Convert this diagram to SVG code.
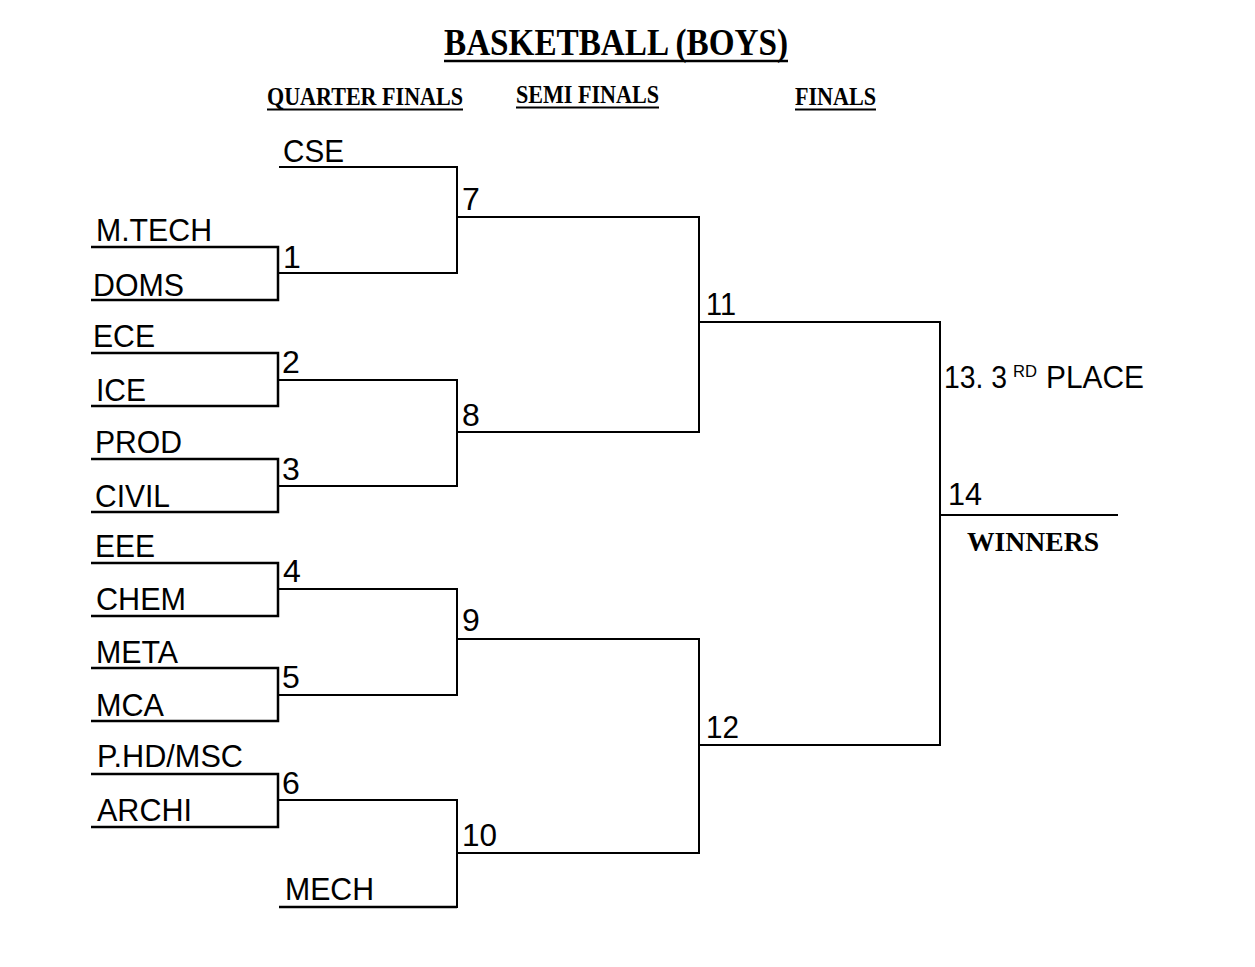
<svg xmlns="http://www.w3.org/2000/svg" width="1255" height="967" viewBox="0 0 1255 967">
<style>
.ln{stroke:#000;stroke-width:2;fill:none}
.tm{stroke:#000;stroke-width:2.5;fill:none}
.t{font-family:"Liberation Sans",Arial,sans-serif;font-size:32px;fill:#000}
.n{font-family:"Liberation Sans",Arial,sans-serif;font-size:32px;fill:#000}
.sup{font-family:"Liberation Sans",Arial,sans-serif;font-size:17px;fill:#000}
.h{font-family:"Liberation Serif","Times New Roman",serif;font-weight:bold;fill:#000}
</style>
<rect width="1255" height="967" fill="#fff"/>
<g id="title">
<text class="h" x="444" y="55" font-size="37" textLength="344" lengthAdjust="spacingAndGlyphs">BASKETBALL (BOYS)</text>
<line class="tm" x1="444" y1="61" x2="788" y2="61"/>
</g>
<g id="headers">
<text class="h" x="267" y="105" font-size="25" textLength="196" lengthAdjust="spacingAndGlyphs">QUARTER FINALS</text>
<line x1="267" y1="109.5" x2="463" y2="109.5" stroke="#000" stroke-width="2"/>
<text class="h" x="516" y="103" font-size="25" textLength="143" lengthAdjust="spacingAndGlyphs">SEMI FINALS</text>
<line x1="516" y1="107.5" x2="659" y2="107.5" stroke="#000" stroke-width="2"/>
<text class="h" x="795" y="105" font-size="25" textLength="81" lengthAdjust="spacingAndGlyphs">FINALS</text>
<line x1="795" y1="109.5" x2="876" y2="109.5" stroke="#000" stroke-width="2"/>
</g>
<g id="connectors">
<path class="tm" d="M91 247H278V300H91"/>
<path class="tm" d="M91 353H278V406H91"/>
<path class="tm" d="M91 459H278V512H91"/>
<path class="tm" d="M91 563H278V616H91"/>
<path class="tm" d="M91 668H278V721H91"/>
<path class="tm" d="M91 774H278V827H91"/>
<path class="ln" d="M279 167H457V273H278"/>
<path class="ln" d="M278 380H457V486H278"/>
<path class="ln" d="M278 589H457V695H278"/>
<path class="ln" d="M278 800H457V907H279"/>
<path class="tm" d="M279 907H457"/>
<path class="ln" d="M457 217H699V432H457"/>
<path class="ln" d="M457 639H699V853H457"/>
<path class="ln" d="M699 322H940V745H699"/>
<path class="ln" d="M940 515H1118"/>
</g>
<g id="teams">
<text class="t" x="283" y="162" textLength="61" lengthAdjust="spacingAndGlyphs">CSE</text>
<text class="t" x="96" y="241" textLength="116" lengthAdjust="spacingAndGlyphs">M.TECH</text>
<text class="t" x="93" y="296" textLength="91" lengthAdjust="spacingAndGlyphs">DOMS</text>
<text class="t" x="93" y="347" textLength="62" lengthAdjust="spacingAndGlyphs">ECE</text>
<text class="t" x="96" y="401" textLength="50" lengthAdjust="spacingAndGlyphs">ICE</text>
<text class="t" x="95" y="453" textLength="87" lengthAdjust="spacingAndGlyphs">PROD</text>
<text class="t" x="95" y="507" textLength="75" lengthAdjust="spacingAndGlyphs">CIVIL</text>
<text class="t" x="95" y="557" textLength="60" lengthAdjust="spacingAndGlyphs">EEE</text>
<text class="t" x="96" y="610" textLength="90" lengthAdjust="spacingAndGlyphs">CHEM</text>
<text class="t" x="96" y="663" textLength="82" lengthAdjust="spacingAndGlyphs">META</text>
<text class="t" x="96" y="716" textLength="68" lengthAdjust="spacingAndGlyphs">MCA</text>
<text class="t" x="97" y="767" textLength="146" lengthAdjust="spacingAndGlyphs">P.HD/MSC</text>
<text class="t" x="97" y="821" textLength="95" lengthAdjust="spacingAndGlyphs">ARCHI</text>
<text class="t" x="285" y="900" textLength="89" lengthAdjust="spacingAndGlyphs">MECH</text>
</g>
<g id="matches">
<text class="n" x="283" y="268">1</text>
<text class="n" x="282" y="373">2</text>
<text class="n" x="282" y="480">3</text>
<text class="n" x="283" y="582">4</text>
<text class="n" x="282" y="688">5</text>
<text class="n" x="282" y="794">6</text>
<text class="n" x="462" y="210">7</text>
<text class="n" x="462" y="426">8</text>
<text class="n" x="462" y="631">9</text>
<text class="n" x="462" y="846" textLength="35" lengthAdjust="spacingAndGlyphs">10</text>
<text class="n" x="706" y="315" textLength="30" lengthAdjust="spacingAndGlyphs">11</text>
<text class="n" x="706" y="738" textLength="33" lengthAdjust="spacingAndGlyphs">12</text>
<text class="t" x="944" y="388" textLength="63" lengthAdjust="spacingAndGlyphs">13. 3</text>
<text class="sup" x="1013" y="377" textLength="24" lengthAdjust="spacingAndGlyphs">RD</text>
<text class="t" x="1046" y="388" textLength="98" lengthAdjust="spacingAndGlyphs">PLACE</text>
<text class="n" x="948" y="505" textLength="34" lengthAdjust="spacingAndGlyphs">14</text>
<text class="h" x="967" y="551" font-size="28" textLength="132" lengthAdjust="spacingAndGlyphs">WINNERS</text>
</g>
</svg>
